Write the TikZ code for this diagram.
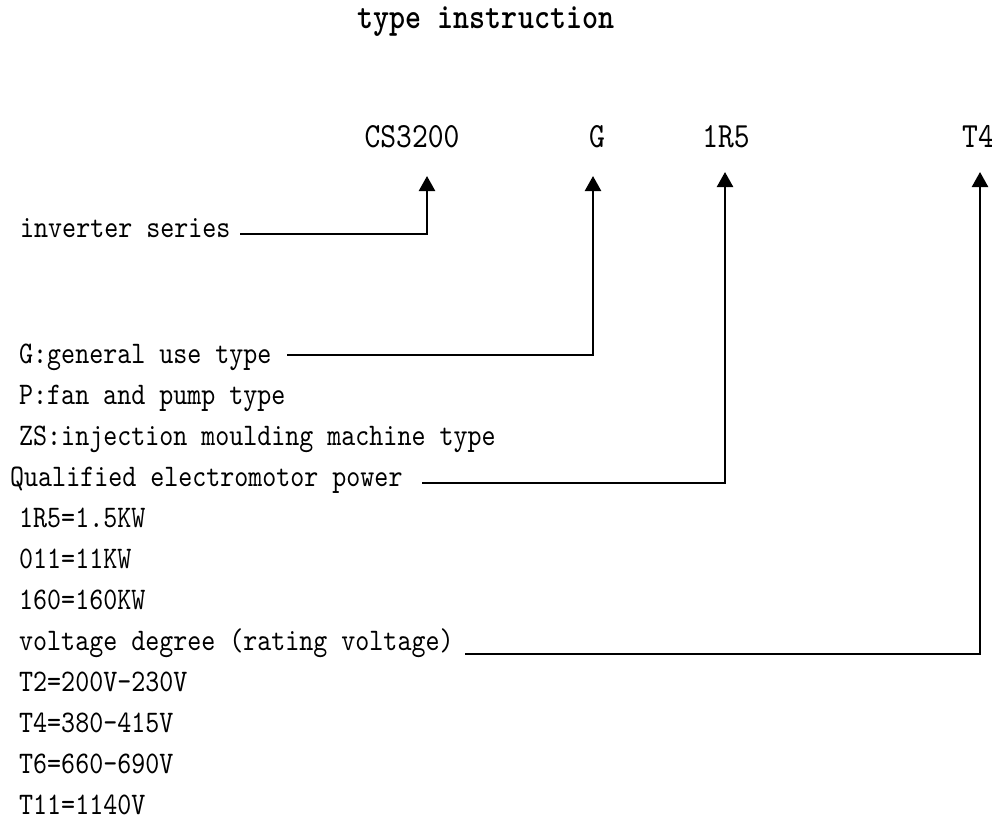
\documentclass[tikz,border=0pt]{standalone}
\usepackage{fontspec}
\usetikzlibrary{arrows.meta}
\newfontfamily\monofont{lmmono10-regular}[Extension=.otf,FakeStretch=0.85,BoldFont=lmmonolt10-bold]
\begin{document}
\begin{tikzpicture}[x=1pt,y=-1pt,
  txt/.style={inner sep=0pt,anchor=base west,font=\monofont\fontsize{31.4}{31.4}\selectfont},
  lbl/.style={inner sep=0pt,anchor=base,font=\monofont\fontsize{35.4}{35.4}\selectfont},
  ttl/.style={inner sep=0pt,anchor=base,font=\monofont\bfseries\fontsize{35.9}{35.9}\selectfont},
  conn/.style={line width=2.4pt,-{Triangle[width=16pt,length=15pt]}}]
\useasboundingbox[fill=white] (0,0) rectangle (992,825);
% title
\node[ttl] (title) at (486,28) {type instruction};
% code labels
\node[lbl] (cs) at (412,147) {CS3200};
\node[lbl] (g) at (597,147) {G};
\node[lbl] (p) at (726,147) {1R5};
\node[lbl] (t) at (978,147) {T4};
% left texts
\node[txt] (inv) at (20,237) {inverter series};
\node[txt] (r1) at (19,363) {G:general use type};
\node[txt] (r2) at (19,404) {P:fan and pump type};
\node[txt] (r3) at (19,445) {ZS:injection moulding machine type};
\node[txt] (r4) at (10,486) {Qualified electromotor power};
\node[txt] (r5) at (19,527) {1R5=1.5KW};
\node[txt] (r6) at (19,568) {011=11KW};
\node[txt] (r7) at (19,609) {160=160KW};
\node[txt] (r8) at (19,650) {voltage degree (rating voltage)};
\node[txt] (r9) at (19,691) {T2=200V-230V};
\node[txt] (r10) at (19,732) {T4=380-415V};
\node[txt] (r11) at (19,773) {T6=660-690V};
\node[txt] (r12) at (19,814) {T11=1140V};
% connector ends
\coordinate (s1) at (240,234);
\coordinate (e1) at (427,176);
\coordinate (s2) at (287,355);
\coordinate (e2) at (593,176);
\coordinate (s3) at (422,483);
\coordinate (e3) at (725,172);
\coordinate (s4) at (465,654);
\coordinate (e4) at (980,172);
\draw[conn] (s1) -| (e1);
\draw[conn] (s2) -| (e2);
\draw[conn] (s3) -| (e3);
\draw[conn] (s4) -| (e4);
\end{tikzpicture}
\end{document}
